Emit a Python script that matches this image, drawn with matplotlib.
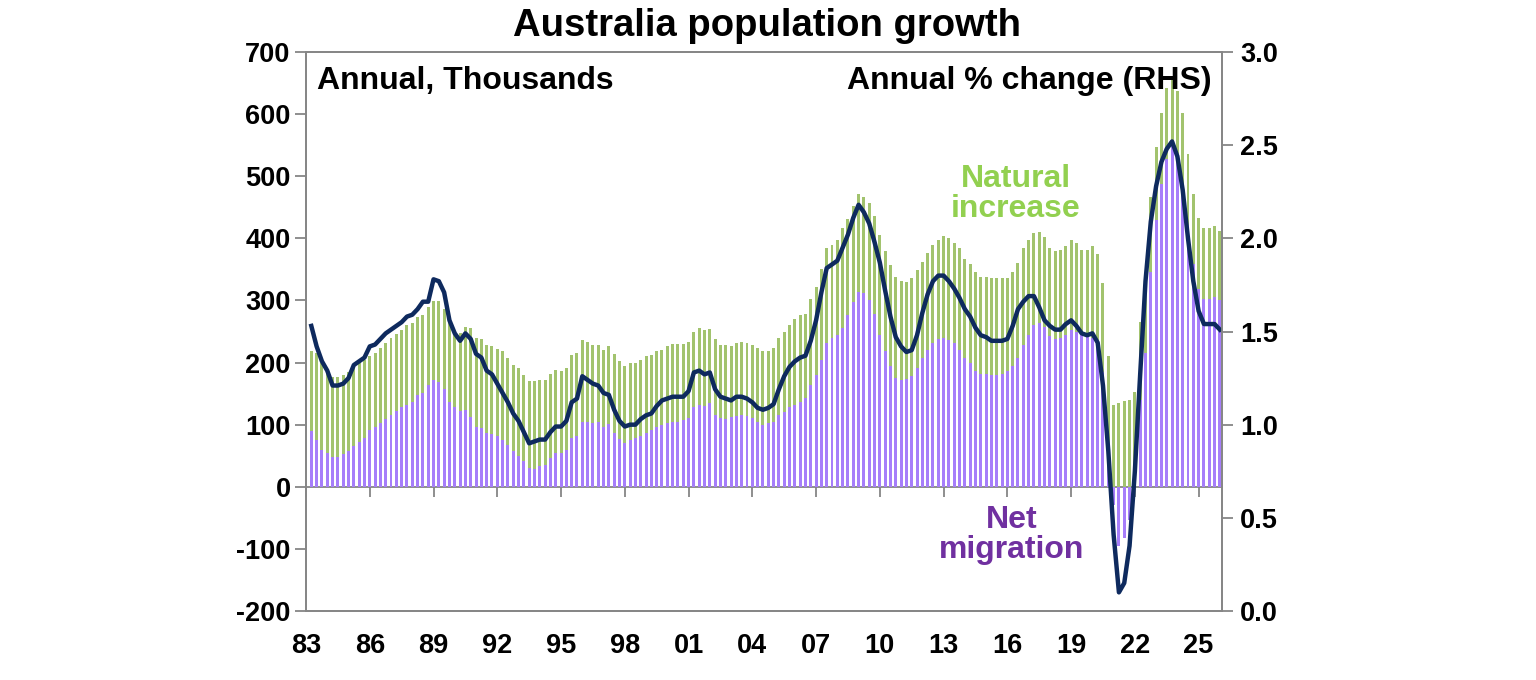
import numpy as np
import matplotlib.pyplot as plt

# quarterly, Mar-83 onwards; thousands (annual totals) and annual % change
total_growth = [
    218, 215, 199, 188, 177, 177, 180, 184, 191, 199, 204, 210, 216, 223, 232, 239,
    246, 253, 261, 263, 274, 276, 290, 299, 299, 287, 269, 250, 247, 258, 255, 239,
    238, 228, 227, 222, 218, 207, 196, 191, 180, 171, 170, 172, 172, 182, 188, 187,
    192, 212, 215, 236, 233, 228, 229, 221, 226, 214, 203, 195, 199, 199, 204, 210,
    212, 218, 221, 227, 230, 230, 230, 233, 250, 255, 253, 254, 238, 229, 228, 227,
    231, 233, 231, 228, 223, 218, 218, 223, 239, 250, 261, 270, 277, 278, 302, 321,
    350, 384, 389, 397, 416, 431, 452, 471, 466, 457, 436, 405, 379, 357, 337, 332,
    330, 336, 349, 362, 377, 389, 398, 403, 400, 392, 384, 366, 359, 345, 338, 338,
    336, 336, 336, 336, 346, 360, 384, 397, 409, 411, 402, 384, 380, 381, 388, 397,
    393, 382, 381, 387, 375, 328, 210, 131, 135, 138, 140, 153, 265, 334, 466, 547,
    602, 642, 662, 637, 601, 535, 472, 432, 417, 417, 420, 412,
]
net_migration = [
    90, 76, 60, 54, 48, 48, 53, 58, 65, 72, 78, 92, 97, 103, 109, 116,
    122, 128, 132, 137, 148, 151, 164, 172, 169, 157, 137, 129, 122, 124, 113, 97,
    94, 86, 85, 81, 76, 68, 57, 50, 42, 30, 29, 34, 35, 46, 54, 54,
    60, 78, 81, 105, 105, 103, 105, 97, 101, 86, 77, 71, 76, 78, 81, 87,
    92, 96, 100, 103, 105, 105, 107, 110, 128, 132, 130, 135, 116, 110, 109, 112,
    114, 116, 114, 110, 105, 100, 102, 105, 116, 121, 129, 132, 137, 143, 164, 180,
    204, 232, 239, 245, 255, 277, 298, 314, 312, 301, 278, 245, 218, 194, 175, 172,
    173, 179, 191, 207, 220, 231, 238, 239, 236, 231, 220, 207, 199, 186, 182, 182,
    180, 180, 182, 186, 194, 207, 228, 245, 261, 263, 258, 242, 238, 239, 245, 253,
    250, 245, 242, 239, 231, 185, 70, -29, -95, -83, -54, 15, 140, 215, 345, 430,
    487, 527, 548, 524, 488, 422, 358, 318, 303, 303, 305, 301,
]
pop_growth_pct = [
    1.53, 1.42, 1.34, 1.29, 1.21, 1.21, 1.22, 1.25, 1.32, 1.34, 1.36, 1.42, 1.43, 1.46, 1.49, 1.51,
    1.53, 1.55, 1.58, 1.59, 1.62, 1.66, 1.66, 1.78, 1.77, 1.71, 1.56, 1.49, 1.45, 1.49, 1.46, 1.38,
    1.36, 1.29, 1.27, 1.22, 1.17, 1.12, 1.06, 1.02, 0.96, 0.90, 0.91, 0.92, 0.92, 0.96, 0.99, 0.99,
    1.02, 1.12, 1.14, 1.26, 1.24, 1.22, 1.21, 1.17, 1.16, 1.08, 1.02, 0.99, 1.00, 1.00, 1.03, 1.05,
    1.06, 1.10, 1.13, 1.14, 1.15, 1.15, 1.15, 1.18, 1.28, 1.29, 1.27, 1.28, 1.19, 1.15, 1.14, 1.13,
    1.15, 1.15, 1.14, 1.12, 1.09, 1.08, 1.09, 1.11, 1.19, 1.26, 1.31, 1.34, 1.36, 1.37, 1.45, 1.56,
    1.71, 1.84, 1.86, 1.88, 1.95, 2.02, 2.11, 2.18, 2.14, 2.08, 1.98, 1.87, 1.72, 1.58, 1.47, 1.42,
    1.39, 1.40, 1.48, 1.60, 1.70, 1.77, 1.80, 1.80, 1.77, 1.73, 1.68, 1.62, 1.58, 1.52, 1.48, 1.47,
    1.45, 1.45, 1.45, 1.46, 1.53, 1.62, 1.66, 1.69, 1.69, 1.63, 1.56, 1.53, 1.51, 1.51, 1.54, 1.56,
    1.53, 1.49, 1.48, 1.49, 1.44, 1.21, 0.86, 0.41, 0.10, 0.15, 0.35, 0.75, 1.27, 1.77, 2.09, 2.28,
    2.41, 2.48, 2.52, 2.44, 2.26, 2.00, 1.77, 1.61, 1.54, 1.54, 1.54, 1.51,
]
first_quarter = 1983.25
tick_years = list(range(1983, 2026, 3))
tick_labels = [f"{y % 100:02d}" for y in tick_years]

if __name__ == "__main__":
    plt.rcParams['font.family'] = ['Liberation Sans', 'DejaVu Sans']
    plt.rcParams['font.weight'] = 'bold'
    plt.rcParams['axes.unicode_minus'] = False

    total = np.array(total_growth, dtype=float)
    nom = np.array(net_migration, dtype=float)
    x = first_quarter + 0.25 * np.arange(len(total))
    nat_bottom = np.maximum(nom, 0)

    purple = '#A67EFA'
    green = '#A2C36E'
    grey = '#868686'

    fig = plt.figure(figsize=(15.36, 6.8), dpi=100)
    ax = fig.add_axes([306 / 1536, 69 / 680, 916 / 1536, 559 / 680])
    ax2 = ax.twinx()

    ax.bar(x, nom, width=0.14, color=purple, linewidth=0)
    ax.bar(x, total - nat_bottom, bottom=nat_bottom, width=0.14, color=green, linewidth=0)
    ax2.plot(x, pop_growth_pct, color='#0E2A5E', lw=3.2, solid_joinstyle='round')

    ax.set_xlim(1983.0, 2026.1)
    ax.set_ylim(-200, 700)
    ax.set_yticks(range(-200, 701, 100))
    ax2.set_ylim(0, 3)
    ax2.set_yticks(np.arange(0, 3.01, 0.5))
    ax2.set_yticklabels([f"{v:.1f}" for v in np.arange(0, 3.01, 0.5)])

    ax.set_xticks(tick_years)
    ax.set_xticklabels(tick_labels)
    ax.tick_params(axis='x', length=0, pad=16, labelsize=19.5)
    ax.tick_params(axis='y', length=8, width=1.3, color=grey, pad=3, labelsize=19.5)
    ax2.tick_params(axis='y', length=8, width=1.3, color=grey, pad=5, labelsize=19.5)

    # horizontal axis crossing at zero
    zero_ax = ax.secondary_xaxis(2 / 9)
    zero_ax.set_xticks(tick_years)
    zero_ax.set_xticklabels([])
    zero_ax.tick_params(length=7, width=1.3, color=grey, direction='out')
    for s in zero_ax.spines.values():
        s.set_color(grey)
        s.set_linewidth(1.3)

    for a in (ax, ax2):
        for s in a.spines.values():
            s.set_color(grey)
            s.set_linewidth(1.3)

    fig.text(767 / 1536, 0.962, 'Australia population growth', ha='center', va='center',
             fontsize=27.5, fontweight='bold')
    ax.text(0.012, 0.975, 'Annual, Thousands', transform=ax.transAxes, ha='left', va='top',
            fontsize=23, fontweight='bold')
    ax.text(0.989, 0.975, 'Annual % change (RHS)', transform=ax.transAxes, ha='right', va='top',
            fontsize=23, fontweight='bold')
    ax.text(2016.4, 472, 'Natural\nincrease', ha='center', va='center', color='#92D050',
            fontsize=23, fontweight='bold', linespacing=1.0)
    ax.text(2016.2, -77, 'Net\nmigration', ha='center', va='center', color='#7030A0',
            fontsize=23, fontweight='bold', linespacing=1.0)

    fig.savefig('out.png', dpi=100)
